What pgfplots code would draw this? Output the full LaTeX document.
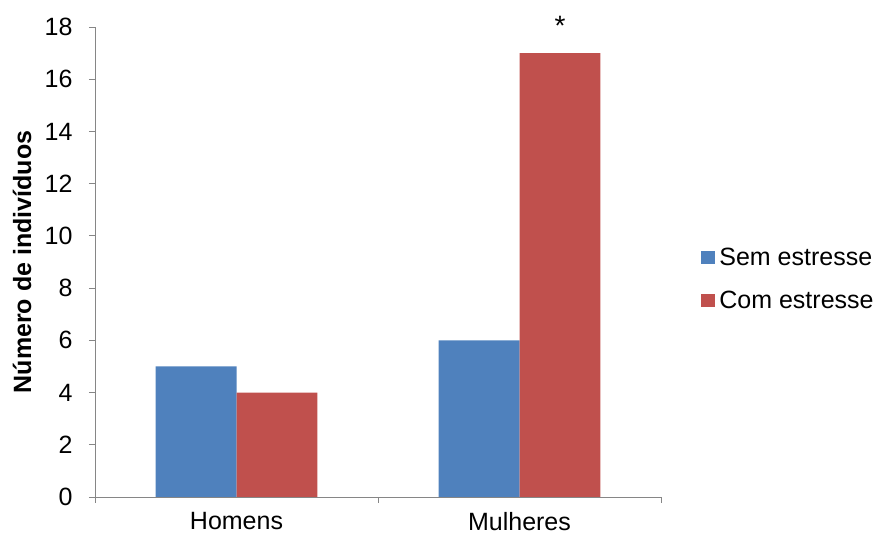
\documentclass[border=0pt]{standalone}
\usepackage{fontspec}
\setmainfont{Liberation Sans}
\usepackage{pgfplots}
\pgfplotsset{compat=1.18}

\definecolor{semblue}{HTML}{4F81BD}
\definecolor{comred}{HTML}{C0504D}
\definecolor{axisgray}{HTML}{868686}

\begin{document}
\begin{tikzpicture}
\begin{axis}[
  scale only axis,
  clip=false,
  width=566pt, height=470pt,
  xmin=-0.5, xmax=1.5,
  ymin=0, ymax=18,
  ytick={0,2,...,18},
  xtick={0,1},
  xticklabels={Homens, Mulheres},
  minor xtick={-0.5,0.5,1.5},
  major x tick style={draw=none},
  tick align=outside,
  major tick length=6pt,
  minor tick length=6pt,
  axis lines*=left,
  axis line style={axisgray, line width=0.8pt},
  every tick/.style={axisgray, line width=0.8pt},
  tick label style={font=\fontsize{25}{29}\selectfont},
  /pgf/number format/assume math mode=true,
  yticklabel style={xshift=-13pt},
  xticklabel style={yshift=-6pt},
  ylabel={Número de indivíduos},
  ylabel style={font=\fontsize{25}{29}\selectfont\bfseries,
    at={(axis description cs:-0.129,0.5)}, anchor=center, rotate=0},
  ybar,
  bar width=0.286,
  legend cell align=left,
  legend style={draw=none, fill=none, inner sep=0pt,
    at={(axis description cs:1.071,0.463)}, anchor=west,
    font=\fontsize{25}{29}\selectfont,
    row sep=20pt,
    nodes={inner xsep=4pt, inner ysep=2pt}},
  legend image code/.code={\fill[#1] (0pt,-6.5pt) rectangle (14pt,6.5pt);},
]
\addplot[fill=semblue, draw=none, bar shift=-0.143] coordinates {(0,5) (1,6)};
\addlegendentry{Sem estresse}
\addplot[fill=comred, draw=none, bar shift=0.143] coordinates {(0,4) (1,17)};
\addlegendentry{Com estresse}
% significance marker above the tallest bar
\node[anchor=base, font=\fontsize{28}{32}\selectfont, yshift=18pt, inner sep=0pt] at (axis cs:1.143,17) {*};
\coordinate (sw) at (rel axis cs:0,0);
\coordinate (ne) at (rel axis cs:1,1);
\end{axis}
\pgfresetboundingbox
\path ([shift={(-95pt,-40pt)}]sw) rectangle ([shift={(221pt,27pt)}]ne);
\end{tikzpicture}
\end{document}
